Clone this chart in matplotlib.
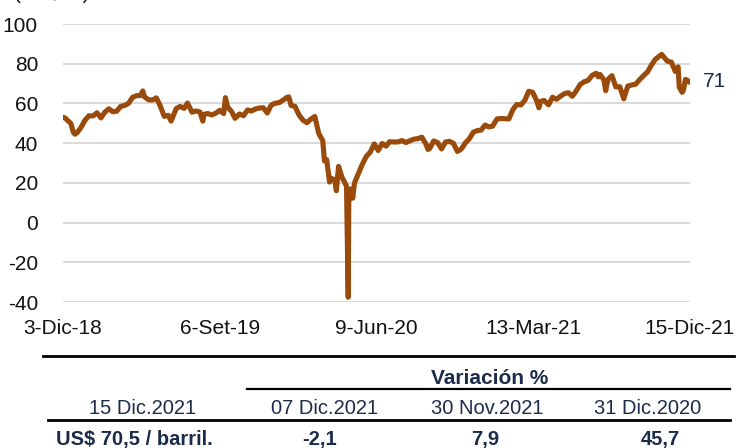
import matplotlib
matplotlib.use("Agg")
import matplotlib.pyplot as plt
from matplotlib.lines import Line2D
import pandas as pd

# WTI price, US$ per barrel (roughly weekly)
fechas = [
    "2018-12-03", "2018-12-07", "2018-12-12", "2018-12-17", "2018-12-21", "2018-12-24", "2018-12-28",
    "2019-01-04", "2019-01-11", "2019-01-18", "2019-01-25", "2019-02-01", "2019-02-08", "2019-02-15",
    "2019-02-22", "2019-03-01", "2019-03-08", "2019-03-15", "2019-03-22", "2019-03-29", "2019-04-05",
    "2019-04-12", "2019-04-19", "2019-04-23", "2019-04-26", "2019-05-03", "2019-05-10", "2019-05-17",
    "2019-05-24", "2019-05-31", "2019-06-07", "2019-06-12", "2019-06-14", "2019-06-21", "2019-06-28",
    "2019-07-05", "2019-07-11", "2019-07-19", "2019-07-26", "2019-08-02", "2019-08-07", "2019-08-09",
    "2019-08-16", "2019-08-23", "2019-08-30", "2019-09-06", "2019-09-13", "2019-09-16", "2019-09-20",
    "2019-09-27", "2019-10-03", "2019-10-11", "2019-10-18", "2019-10-25", "2019-11-01", "2019-11-08",
    "2019-11-15", "2019-11-22", "2019-11-29", "2019-12-06", "2019-12-13", "2019-12-20", "2019-12-27",
    "2020-01-03", "2020-01-06", "2020-01-10", "2020-01-17", "2020-01-24", "2020-01-31", "2020-02-07",
    "2020-02-14", "2020-02-21", "2020-02-28", "2020-03-06", "2020-03-09", "2020-03-13", "2020-03-18",
    "2020-03-20", "2020-03-27", "2020-03-30", "2020-04-02", "2020-04-03", "2020-04-09", "2020-04-14",
    "2020-04-17", "2020-04-20", "2020-04-21", "2020-04-24", "2020-04-28", "2020-05-01", "2020-05-08",
    "2020-05-15", "2020-05-22", "2020-05-29", "2020-06-05", "2020-06-12", "2020-06-19", "2020-06-26",
    "2020-07-02", "2020-07-10", "2020-07-17", "2020-07-24", "2020-07-31", "2020-08-07", "2020-08-14",
    "2020-08-21", "2020-08-28", "2020-09-04", "2020-09-08", "2020-09-11", "2020-09-18", "2020-09-25",
    "2020-10-02", "2020-10-09", "2020-10-16", "2020-10-23", "2020-10-30", "2020-11-06", "2020-11-13",
    "2020-11-20", "2020-11-27", "2020-12-04", "2020-12-11", "2020-12-18", "2020-12-24", "2020-12-31",
    "2021-01-08", "2021-01-15", "2021-01-22", "2021-01-29", "2021-02-05", "2021-02-12", "2021-02-19",
    "2021-02-26", "2021-03-05", "2021-03-12", "2021-03-19", "2021-03-23", "2021-03-26", "2021-04-01",
    "2021-04-09", "2021-04-16", "2021-04-23", "2021-04-30", "2021-05-07", "2021-05-14", "2021-05-21",
    "2021-05-28", "2021-06-04", "2021-06-11", "2021-06-18", "2021-06-25", "2021-07-02", "2021-07-06",
    "2021-07-09", "2021-07-16", "2021-07-19", "2021-07-23", "2021-07-30", "2021-08-06", "2021-08-13",
    "2021-08-20", "2021-08-27", "2021-09-03", "2021-09-10", "2021-09-17", "2021-09-24", "2021-10-01",
    "2021-10-08", "2021-10-15", "2021-10-22", "2021-10-26", "2021-10-29", "2021-11-05", "2021-11-12",
    "2021-11-19", "2021-11-24", "2021-11-26", "2021-11-30", "2021-12-01", "2021-12-03", "2021-12-07",
    "2021-12-10", "2021-12-14", "2021-12-15",
]
wti = [
    53.0, 52.6, 51.2, 49.9, 45.6, 44.5, 45.3,
    48.0, 51.6, 53.8, 53.7, 55.3, 52.7, 55.6,
    57.3, 55.8, 56.1, 58.5, 59.0, 60.1, 63.1,
    63.9, 64.0, 66.3, 63.3, 61.9, 61.7, 62.8,
    58.6, 53.5, 54.0, 51.1, 52.5, 57.4, 58.5,
    57.5, 60.2, 55.6, 56.2, 55.7, 51.1, 54.5,
    54.9, 54.2, 55.1, 56.5, 54.9, 62.9, 58.1,
    55.9, 52.5, 54.7, 53.8, 56.7, 56.2, 57.2,
    57.7, 57.8, 55.2, 59.2, 60.1, 60.4, 61.7,
    63.1, 63.3, 59.0, 58.5, 54.2, 51.6, 50.3,
    52.1, 53.4, 44.8, 41.3, 31.1, 31.7, 20.4,
    22.4, 21.5, 16.0, 25.3, 28.3, 22.8, 20.1,
    18.3, -37.6, 10.0, 16.9, 12.3, 19.8, 24.7,
    29.4, 33.3, 35.5, 39.6, 36.3, 39.8, 38.5,
    40.7, 40.6, 40.6, 41.3, 40.3, 41.2, 42.0,
    42.3, 43.0, 39.8, 36.8, 37.3, 41.1, 40.3,
    37.1, 40.6, 40.9, 39.9, 35.8, 37.1, 40.1,
    42.2, 45.5, 46.3, 46.6, 49.1, 48.2, 48.5,
    52.2, 52.4, 52.3, 52.2, 56.9, 59.5, 59.2,
    61.5, 66.1, 65.6, 61.4, 57.8, 61.0, 61.5,
    59.3, 63.1, 62.1, 63.6, 64.9, 65.4, 63.6,
    66.3, 69.6, 70.9, 71.6, 74.1, 75.2, 73.4,
    74.6, 71.8, 66.4, 72.1, 74.0, 68.3, 68.4,
    62.3, 68.7, 69.3, 69.7, 72.0, 74.0, 75.9,
    79.4, 82.3, 83.8, 84.7, 83.6, 81.3, 80.8,
    76.1, 78.4, 68.2, 66.2, 65.6, 66.3, 72.1,
    71.7, 70.7, 70.9,
]
ultimo_label = "71"

tick_fechas = ["2018-12-03", "2019-09-06", "2020-06-09", "2021-03-13", "2021-12-15"]
tick_labels = ["3-Dic-18", "6-Set-19", "9-Jun-20", "13-Mar-21", "15-Dic-21"]
y_ticks = [-40, -20, 0, 20, 40, 60, 80, 100]

# table under the chart
tabla_titulo = "Variación %"
tabla_cabecera = ["15 Dic.2021", "07 Dic.2021", "30 Nov.2021", "31 Dic.2020"]
tabla_valores = ["US$ 70,5 / barril.", "-2,1", "7,9", "45,7"]

LINE_COLOR = "#9A4B0B"
NAVY = "#1C2B4A"
W, H = 739, 448

plt.rcParams["font.family"] = ["Liberation Sans", "DejaVu Sans"]
plt.rcParams["axes.unicode_minus"] = False

fig = plt.figure(figsize=(W / 100, H / 100), dpi=100)
ax = fig.add_axes([63 / W, 1 - 302 / H, 627 / W, 278 / H])

x = pd.to_datetime(fechas)
ax.plot(x, wti, color=LINE_COLOR, lw=3.7, solid_joinstyle="round", solid_capstyle="round", zorder=3)

ax.set_ylim(-40, 100)
ax.set_yticks(y_ticks)
ax.set_xlim(pd.Timestamp(tick_fechas[0]), pd.Timestamp(tick_fechas[-1]))
ax.set_xticks(pd.to_datetime(tick_fechas))
ax.set_xticklabels(tick_labels)

ax.grid(axis="y", color="#D9D9D9", lw=1.4)
ax.set_axisbelow(True)
for s in ax.spines.values():
    s.set_visible(False)
ax.tick_params(axis="y", length=0, pad=18, labelsize=15, labelcolor="#111111")
ax.tick_params(axis="x", length=0, pad=12, labelsize=15, labelcolor="#111111")

# end label
ax.annotate(ultimo_label, xy=(x[-1], wti[-1]), xytext=(9, 0), textcoords="offset points",
            ha="left", va="center", fontsize=15, color=NAVY, annotation_clip=False)

# unit label, cut at the top edge like the original
fig.text(14 / W, 1 + 1 / H, "(US$/bl)", fontsize=15, color="#111111", ha="left", va="baseline")


def fx(px):
    return px / W


def fy(py):
    return 1 - py / H


def hline(x0, x1, y, lw):
    fig.add_artist(Line2D([fx(x0), fx(x1)], [fy(y), fy(y)], transform=fig.transFigure,
                          color="black", lw=lw))


narrow = ["Liberation Sans Narrow", "Liberation Sans"]
hline(43, 734, 356, 2.0)
fig.text(fx(490), fy(378), tabla_titulo, ha="center", va="center", fontsize=15,
         fontweight="bold", color=NAVY, family=narrow)
hline(247, 730, 389, 1.6)
for cx, txt in zip([143, 325, 487, 648], tabla_cabecera):
    fig.text(fx(cx), fy(408), txt, ha="center", va="center", fontsize=14.5, color=NAVY, family=narrow)
hline(48, 730, 420, 2.0)
for cx, txt in zip([134, 320, 485, 660], tabla_valores):
    fig.text(fx(cx), fy(439), txt, ha="center", va="center", fontsize=14.5,
             fontweight="bold", color=NAVY, family=narrow)

fig.savefig("out.png", dpi=100)
